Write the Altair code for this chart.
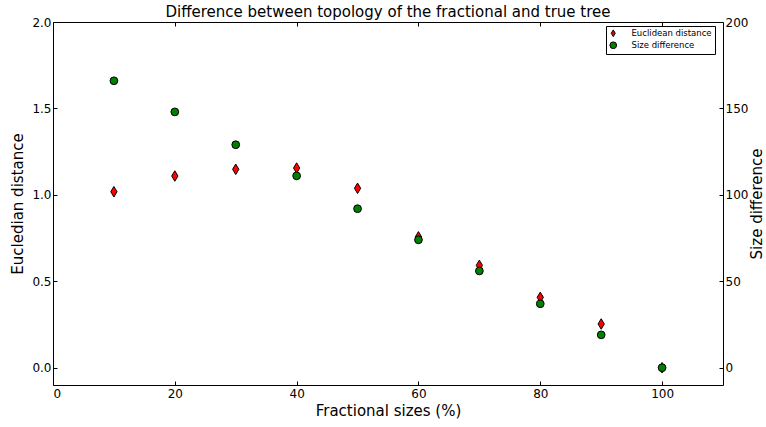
import altair as alt
import pandas as pd

fractions = [10, 20, 30, 40, 50, 60, 70, 80, 90, 100]
euclidean = [1.018, 1.109, 1.148, 1.155, 1.038, 0.757, 0.592, 0.407, 0.253, 0.0]
size_diff = [166, 148, 129, 111, 92, 74, 56, 37, 19, 0]
series = ["Euclidean distance", "Size difference"]

df = pd.DataFrame({"x": fractions, "e": euclidean, "s": size_diff})

FONT = "DejaVu Sans"
thin_diamond = "M0,-1L0.6,0L0,1L-0.6,0Z"

color_scale = alt.Scale(domain=series, range=["#ff0000", "#008000"])
shape_scale = alt.Scale(domain=series, range=[thin_diamond, "circle"])
legend = alt.Legend(
    title=None, orient="none", legendX=553, legendY=4,
    strokeColor="black", fillColor="white", padding=3, cornerRadius=0,
    labelFontSize=8.5, labelFont=FONT, labelColor="black",
    symbolStrokeColor="black", symbolStrokeWidth=1, symbolSize=45,
    rowPadding=0, labelOffset=14,
)

x_bottom = alt.X("x:Q", scale=alt.Scale(domain=[0, 110], nice=False),
                 axis=alt.Axis(orient="bottom", values=[0, 20, 40, 60, 80, 100],
                               title="Fractional sizes (%)", offset=-4, tickSize=4,
                               domain=False, grid=False, labelPadding=3,
                               titlePadding=4))
x_top = alt.X("x:Q", scale=alt.Scale(domain=[0, 110], nice=False),
              axis=alt.Axis(orient="top", values=[0, 20, 40, 60, 80, 100],
                            title=None, labels=False, offset=-4, tickSize=4,
                            domain=False, grid=False))

red = alt.Chart(df).transform_calculate(series="'Euclidean distance'").mark_point(
    filled=True, stroke="black", strokeWidth=1, opacity=1, size=110).encode(
    x=x_bottom,
    y=alt.Y("e:Q", scale=alt.Scale(domain=[-0.1, 2.0], nice=False, zero=False),
            axis=alt.Axis(orient="left", values=[0, 0.5, 1.0, 1.5, 2.0], format=".1f",
                          title="Eucledian distance", offset=-4, tickSize=4,
                          domain=False, grid=False, labelPadding=2, titlePadding=6)),
    color=alt.Color("series:N", scale=color_scale, legend=legend),
    shape=alt.Shape("series:N", scale=shape_scale, legend=legend),
)

green = alt.Chart(df).transform_calculate(series="'Size difference'").mark_point(
    filled=True, stroke="black", strokeWidth=1, opacity=1, size=60).encode(
    x=x_top,
    y=alt.Y("s:Q", scale=alt.Scale(domain=[-10, 200], nice=False, zero=False),
            axis=alt.Axis(orient="right", values=[0, 50, 100, 150, 200],
                          title="Size difference", offset=-4, tickSize=4,
                          titleAngle=270, titleBaseline="top",
                          domain=False, grid=False, labelPadding=2, titlePadding=2)),
    color=alt.Color("series:N", scale=color_scale, legend=legend),
    shape=alt.Shape("series:N", scale=shape_scale, legend=legend),
)

chart = alt.layer(red, green).resolve_scale(y="independent").resolve_axis(
    x="independent"
).properties(
    width=670, height=363,
    background="white",
    autosize=alt.AutoSizeParams(type="none"),
    padding={"left": 53, "top": 22, "right": 43, "bottom": 42},
    title=alt.Title("Difference between topology of the fractional and true tree",
                    fontSize=15, font=FONT, fontWeight="normal", color="black",
                    offset=-4),
).configure_view(stroke="black", strokeWidth=1).configure_axis(
    labelFont=FONT, labelFontSize=12, labelColor="black",
    titleFont=FONT, titleFontSize=15, titleFontWeight="normal", titleColor="black",
    tickColor="black", tickWidth=1,
)

chart.save("out.html", embed_options={"renderer": "svg", "actions": False})
